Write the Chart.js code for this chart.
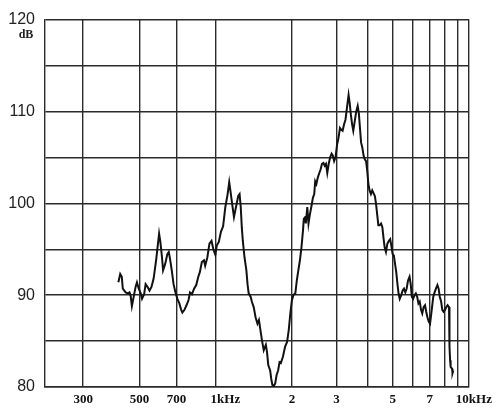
<!DOCTYPE html>
<html>
<head>
<meta charset="utf-8">
<script src="https://cdn.jsdelivr.net/npm/chart.js@4/dist/chart.umd.min.js"></script>
<style>
html,body{margin:0;padding:0;background:#fff;}
#c{display:block;}
</style>
</head>
<body>
<canvas id="c" width="500" height="411"></canvas>
<script>

// frequency (Hz) of each traced point
const freq = [
413,420,426,430,441,451,457,462,467,473,
483,489,497,506,512,522,529,538,548,558,
569,582,598,605,614,620,632,645,653,660,
671,682,694,706,719,731,739,753,767,782,
792,806,822,838,854,866,882,899,909,927,
945,963,979,997,1010,1029,1049,1070,1092,1115,
1131,1143,1162,1181,1205,1228,1243,1256,1268,1280,
1300,1322,1336,1350,1375,1389,1413,1437,1462,1482,
1498,1523,1548,1578,1595,1613,1641,1657,1675,1697,
1718,1740,1764,1787,1808,1843,1880,1914,1943,1971,
1998,2026,2063,2091,2120,2151,2181,2211,2228,2257,
2269,2300,2325,2355,2385,2420,2450,2471,2498,2530,
2565,2597,2628,2664,2694,2726,2758,2794,2832,2869,
2902,2935,2973,3015,3053,3095,3132,3170,3213,3254,
3298,3347,3381,3416,3456,3493,3538,3589,3636,3675,
3712,3750,3791,3836,3878,3924,3967,4007,4051,4101,
4151,4250,4297,4340,4388,4439,4497,4550,4595,4646,
4701,4761,4822,4884,4937,4991,5053,5106,5162,5219,
5271,5328,5401,5471,5536,5604,5673,5746,5825,5888,
5948,6018,6095,6167,6247,6316,6390,6467,6538,6621,
6706,6779,6853,6941,7018,7114,7225,7314,7404,7505,
7588,7671,7762,7844,7933,8037,8138,8234,8339,8362,
8389,8422,8461,8570,8608,8672
]

// level (dB) at each point
const level = [
91.4,92.3,92.0,90.7,90.3,90.2,90.3,89.9,88.8,89.6,
90.9,91.4,90.7,90.2,89.6,90.1,91.2,90.9,90.5,90.9,
91.8,93.8,96.7,95.8,94.1,92.7,93.4,94.5,94.7,94.0,
92.7,91.2,90.3,89.6,89.1,88.4,88.1,88.4,88.9,89.5,
90.3,90.1,90.7,91.1,92.0,92.5,93.6,93.8,93.2,94.1,
95.6,95.9,95.0,94.4,95.4,95.8,96.9,97.5,99.6,101.0,
102.3,101.4,99.9,98.5,99.7,100.8,101.0,99.6,97.4,95.9,
94.1,92.7,91.2,90.2,89.8,89.3,88.7,87.6,86.9,87.3,
86.4,85.1,84.0,84.6,83.8,82.4,81.8,80.9,80.2,80.1,
80.4,81.3,81.8,82.7,82.6,83.3,84.4,84.9,86.2,88.0,
89.4,90.0,90.2,91.6,92.7,93.8,95.2,97.0,98.3,98.5,
97.8,99.6,97.8,98.8,99.6,100.6,101.0,102.4,102.1,102.8,
103.3,103.7,104.3,104.4,104.1,104.3,103.3,104.3,105.0,105.4,
105.2,104.6,105.0,106.4,107.1,108.2,108.0,107.9,108.6,109.1,
110.4,111.8,110.9,109.7,108.6,107.9,108.9,110.0,110.6,109.8,
108.2,106.6,106.1,105.2,104.8,104.6,103.5,102.1,101.4,101.0,
101.4,100.8,99.9,98.8,97.6,97.6,97.8,97.4,96.3,95.2,
94.7,95.6,95.9,96.1,95.4,94.5,94.3,93.4,92.5,91.2,
90.2,89.6,90.0,90.5,90.7,90.3,90.7,91.6,92.0,91.2,
89.8,89.6,90.0,90.2,89.8,89.1,89.3,88.4,88.0,88.7,
88.9,88.2,87.6,87.1,86.9,88.2,89.8,90.3,90.7,91.1,
90.7,89.8,89.3,88.4,88.2,88.4,88.7,88.9,88.7,86.9,
84.4,82.9,82.2,82.0,81.5,81.8
]

// vertical grid lines and their labels
const xTicks = [300,500,700,1000,2000,3000,4000,5000,6000,7000,8000,9000,10000]
const xTickLabels = ["300","500","700","      1kHz","2","3","","5","","7","","","   10kHz"]

const yLabels = [80,90,100,110,120]

const gridColor = "#2b2b2b"

const points = freq.map((f,i) => ({x:f, y:level[i]}))

const labelMap = {}
xTicks.forEach((v,i)=>{ labelMap[v] = xTickLabels[i] })

/* small "dB" unit text under the top label */
const unitPlugin = {
id:"unit",
afterDraw(chart){
const ctx = chart.ctx
ctx.save()
ctx.fillStyle = "#222"
ctx.font = "bold 12px 'Liberation Serif'"
ctx.textAlign = "center"
ctx.textBaseline = "middle"
ctx.fillText("dB", 26, 35)
ctx.restore()
}
}

new Chart(document.getElementById("c"),{
type:"line",
data:{
datasets:[
{
data:points,
borderColor:"#111",
borderWidth:2,
pointRadius:0,
tension:0,
fill:false
}
]
},
options:{
responsive:false,
animation:false,
devicePixelRatio:1,
layout:{padding:{left:0,right:31,top:18,bottom:0}},
plugins:{
legend:{display:false},
tooltip:{enabled:false}
},
scales:{
x:{
type:"logarithmic",
min:212,
max:10000,
afterBuildTicks:(scale)=>{
scale.ticks = xTicks.map(v => ({value:v}))
},
afterFit:(scale)=>{ scale.height = 24 },
grid:{color:gridColor,lineWidth:1.4,drawTicks:false},
border:{color:gridColor,width:1.4},
ticks:{
autoSkip:false,
maxRotation:0,
padding:5,
color:"#111",
font:{family:"'Liberation Serif'",size:13,weight:"bold"},
callback:(v)=> labelMap[v] !== undefined ? labelMap[v] : ""
}
},
y:{
min:80,
max:120,
afterFit:(scale)=>{ scale.width = 45 },
grid:{color:gridColor,lineWidth:1.4,drawTicks:false},
border:{color:gridColor,width:1.4},
ticks:{
stepSize:5,
padding:10,
color:"#222",
font:{family:"'Liberation Sans'",size:16},
callback:(v)=> yLabels.includes(v) ? String(v) : ""
}
}
}
},
plugins:[unitPlugin]
})

</script>
</body>
</html>
